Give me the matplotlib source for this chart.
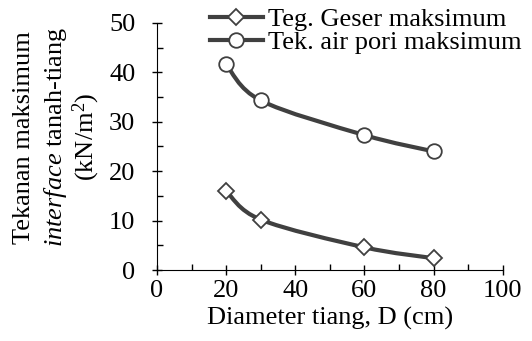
import numpy as np
import matplotlib.pyplot as plt
from matplotlib.path import Path
from matplotlib.patches import PathPatch
from matplotlib.lines import Line2D

plt.rcParams['font.family'] = 'Liberation Serif'
plt.rcParams['mathtext.fontset'] = 'custom'
plt.rcParams['mathtext.rm'] = 'Liberation Serif'
plt.rcParams['mathtext.it'] = 'Liberation Serif:italic'

diameter = [20, 30, 60, 80]
geser = [16.0, 10.2, 4.6, 2.4]
air_pori = [41.6, 34.3, 27.3, 24.0]
labels = ['Teg. Geser maksimum', 'Tek. air pori maksimum']

line_col = '#404040'
fs = 19


def smooth_path(x, y):
    # excel-like smoothed line as cubic bezier segments
    x = np.asarray(x, float)
    y = np.asarray(y, float)
    px = np.concatenate([[x[0]], x, [x[-1]]])
    py = np.concatenate([[y[0]], y, [y[-1]]])
    verts = [(x[0], y[0])]
    codes = [Path.MOVETO]
    for i in range(1, len(x)):
        c1 = (px[i] + (px[i + 1] - px[i - 1]) / 6, py[i] + (py[i + 1] - py[i - 1]) / 6)
        c2 = (px[i + 1] - (px[i + 2] - px[i]) / 6, py[i + 1] - (py[i + 2] - py[i]) / 6)
        verts += [c1, c2, (x[i], y[i])]
        codes += [Path.CURVE4] * 3
    return Path(verts, codes)


fig = plt.figure(figsize=(5.32, 3.41), dpi=100)
ax = fig.add_axes([0.295, 0.208, 0.65, 0.725])

for ys, mk in [(geser, 'D'), (air_pori, 'o')]:
    ax.add_patch(PathPatch(smooth_path(diameter, ys), fill=False, lw=3, ec=line_col, zorder=2))
    ax.plot(diameter, ys, ls='none', marker=mk, ms=10.5 if mk == 'o' else 8, mfc='white',
            mec=line_col, mew=1.3, zorder=3)

ax.set_xlim(0, 100)
ax.set_ylim(0, 50)
ax.set_xticks(range(0, 101, 20))
ax.set_yticks(range(0, 51, 10))
ax.set_xticks(range(10, 100, 20), minor=True)
ax.set_yticks(range(5, 50, 10), minor=True)
ax.tick_params(which='major', direction='inout', length=7, width=1, labelsize=fs, colors='black')
ax.tick_params(which='minor', direction='in', length=4, width=1)
ax.tick_params(axis='x', pad=4)
ax.tick_params(axis='y', pad=12)
for s in ['top', 'right']:
    ax.spines[s].set_visible(False)
ax.set_xlabel('Diameter tiang, D (cm)', fontsize=fs, labelpad=3)

fig.text(0.045, 0.598, 'Tekanan maksimum', rotation=90, ha='center', va='center', fontsize=fs)
fig.text(0.105, 0.598, r'$\mathit{interface}$ tanah-tiang', rotation=90, ha='center', va='center', fontsize=fs)
fig.text(0.162, 0.598, r'(kN/m$^{2}$)', rotation=90, ha='center', va='center', fontsize=fs)

handles = [Line2D([], [], color=line_col, lw=3, marker='D', ms=8, mfc='white', mec=line_col, mew=1.3),
           Line2D([], [], color=line_col, lw=3, marker='o', ms=10.5, mfc='white', mec=line_col, mew=1.3)]
fig.legend(handles, labels, loc='upper left', bbox_to_anchor=(0.365, 1.025), frameon=False,
           fontsize=fs, handlelength=2.0, handletextpad=0.2, labelspacing=0.0, borderpad=0.1)

fig.savefig('out.png', dpi=100)
